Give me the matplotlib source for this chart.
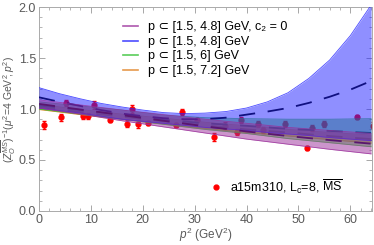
import numpy as np
import matplotlib.pyplot as plt
from matplotlib.lines import Line2D
from matplotlib.ticker import MultipleLocator

# lattice data a15m310, Lc=8
p2 = [1.0, 4.2, 5.3, 8.5, 9.5, 10.6, 13.7, 16.9, 17.9, 19.0, 21.1, 26.4, 27.5,
      30.5, 33.8, 35.8, 38.1, 39.0, 42.3, 43.2, 47.5, 51.7, 52.7, 55.0, 61.2, 64.3]
zinv = [0.845, 0.92, 1.06, 0.935, 0.935, 1.04, 0.89, 0.855, 1.0, 0.855, 0.865,
        0.845, 0.968, 0.894, 0.724, 0.838, 0.773, 0.894, 0.855, 0.796, 0.855,
        0.62, 0.81, 0.855, 0.926, 0.838]
zerr = [0.04, 0.035, 0.03, 0.03, 0.03, 0.035, 0.02, 0.035, 0.035, 0.04, 0.02,
        0.02, 0.03, 0.02, 0.04, 0.03, 0.03, 0.03, 0.03, 0.03, 0.03, 0.02, 0.03,
        0.03, 0.02, 0.03]

# fit bands, read at p2 = 0, 8, ..., 64
p2_fit = [0, 8, 16, 24, 32, 40, 48, 56, 64]
fit1_lo = [1.01, 0.95, 0.885, 0.825, 0.765, 0.705, 0.655, 0.605, 0.56]
fit1_mid = [1.05, 0.995, 0.94, 0.885, 0.83, 0.78, 0.735, 0.695, 0.66]
fit1_hi = [1.09, 1.04, 0.99, 0.945, 0.90, 0.86, 0.82, 0.79, 0.76]
fit3_lo = [1.0, 0.95, 0.90, 0.85, 0.80, 0.76, 0.71, 0.67, 0.63]
fit3_mid = [1.035, 0.99, 0.945, 0.895, 0.86, 0.835, 0.805, 0.785, 0.765]
fit3_hi = [1.07, 1.03, 0.99, 0.94, 0.915, 0.905, 0.90, 0.90, 0.905]
fit4_lo = [0.995, 0.945, 0.90, 0.855, 0.81, 0.77, 0.735, 0.70, 0.665]
fit4_mid = [1.02, 0.97, 0.925, 0.88, 0.84, 0.8, 0.77, 0.735, 0.705]
fit4_hi = [1.045, 0.995, 0.95, 0.91, 0.87, 0.835, 0.80, 0.77, 0.745]

# fit 2 needs a finer grid (band opens up at large p2)
p2_fit2 = [0, 4, 8, 12, 16, 20, 24, 28, 32, 36, 40, 44, 48, 52, 56, 60, 64]
fit2_lo = [1.01, 0.985, 0.96, 0.93, 0.90, 0.88, 0.86, 0.84, 0.82, 0.805, 0.79,
           0.77, 0.755, 0.74, 0.72, 0.705, 0.69]
fit2_mid = [1.115, 1.07, 1.03, 0.99, 0.955, 0.93, 0.91, 0.90, 0.90, 0.915,
            0.945, 0.975, 1.01, 1.06, 1.12, 1.19, 1.275]
fit2_hi = [1.21, 1.15, 1.10, 1.055, 1.02, 0.99, 0.965, 0.955, 0.96, 0.975,
           1.01, 1.07, 1.16, 1.30, 1.48, 1.72, 2.02]

labels = ['p \u2282 [1.5, 4.8] GeV, c\u2082 = 0',
          'p \u2282 [1.5, 4.8] GeV',
          'p \u2282 [1.5, 6] GeV',
          'p \u2282 [1.5, 7.2] GeV']

plt.rcParams['font.family'] = ['Liberation Sans', 'DejaVu Sans']
plt.rcParams['mathtext.fontset'] = 'custom'
plt.rcParams['mathtext.rm'] = 'Liberation Sans'
plt.rcParams['mathtext.it'] = 'Liberation Sans:italic'

fig, ax = plt.subplots(figsize=(3.74, 2.45), dpi=100)
fig.subplots_adjust(left=0.104, right=0.995, bottom=0.139, top=0.971)

ax.errorbar(p2, zinv, yerr=zerr, fmt='o', color='red', ms=3.5, elinewidth=1,
            capsize=1.5, capthick=1, zorder=1)

bands = [
    (p2_fit, fit1_lo, fit1_mid, fit1_hi, '#9a2d9a', '#5a1570'),
    (p2_fit2, fit2_lo, fit2_mid, fit2_hi, '#2020ff', '#101080'),
    (p2_fit, fit3_lo, fit3_mid, fit3_hi, '#30c030', '#207020'),
    (p2_fit, fit4_lo, fit4_mid, fit4_hi, '#e08020', '#905010'),
]
# last fit drawn first, so the c2 = 0 band ends up on top
for i, (x, lo, mid, hi, col, dcol) in enumerate(bands):
    z = 10 - 2 * i
    ax.fill_between(x, lo, hi, color=col, alpha=0.5, lw=0, zorder=z)
    ax.plot(x, hi, color=col, lw=0.6, alpha=0.8, zorder=z)
    ax.plot(x, lo, color=col, lw=0.6, alpha=0.8, zorder=z)
    ax.plot(x, mid, color=dcol, lw=1.3, dashes=(9, 7), zorder=z + 1)

ax.set_xlim(0, 64.2)
ax.set_ylim(0, 2.0)
ax.xaxis.set_major_locator(MultipleLocator(10))
ax.xaxis.set_minor_locator(MultipleLocator(2))
ax.yaxis.set_major_locator(MultipleLocator(0.5))
ax.yaxis.set_minor_locator(MultipleLocator(0.1))
ax.yaxis.set_major_formatter(plt.FormatStrFormatter('%.1f'))
ax.tick_params(which='both', direction='in', top=True, right=True,
               colors='#999999', labelcolor='#5a5a5a', labelsize=9)
ax.tick_params(which='major', length=4, width=0.6, pad=2)
ax.tick_params(which='minor', length=2, width=0.5)
for s in ax.spines.values():
    s.set_color('#aaaaaa')
    s.set_linewidth(0.7)

ax.set_xlabel(r'$p^2$ (GeV$^2$)', color='#5a5a5a', fontsize=8.5, labelpad=0)
ax.set_ylabel(r'$(Z_O^{\overline{MS}})^{-1}(\mu^2\!=\!4$ GeV$^2\!,p^2)$',
              color='#5a5a5a', fontsize=7.5)
ax.yaxis.set_label_coords(-0.062, 0.5)

handles = [Line2D([], [], color=b[4], lw=1.2, alpha=0.8) for b in bands]
leg = ax.legend(handles, labels, loc='upper left', bbox_to_anchor=(0.22, 0.985),
                frameon=False, fontsize=9, handlelength=1.2,
                handletextpad=0.8, labelspacing=0.2)
ax.add_artist(leg)

pt = Line2D([], [], color='red', marker='o', ls='', ms=3.5)
ax.legend([pt], [r'a15m310, L$_\mathregular{c}$=8, $\overline{\mathregular{MS}}$'],
          loc='upper left', bbox_to_anchor=(0.48, 0.22), frameon=False,
          fontsize=9, handlelength=1.0, handletextpad=0.6)

plt.savefig('out.png', dpi=100)
